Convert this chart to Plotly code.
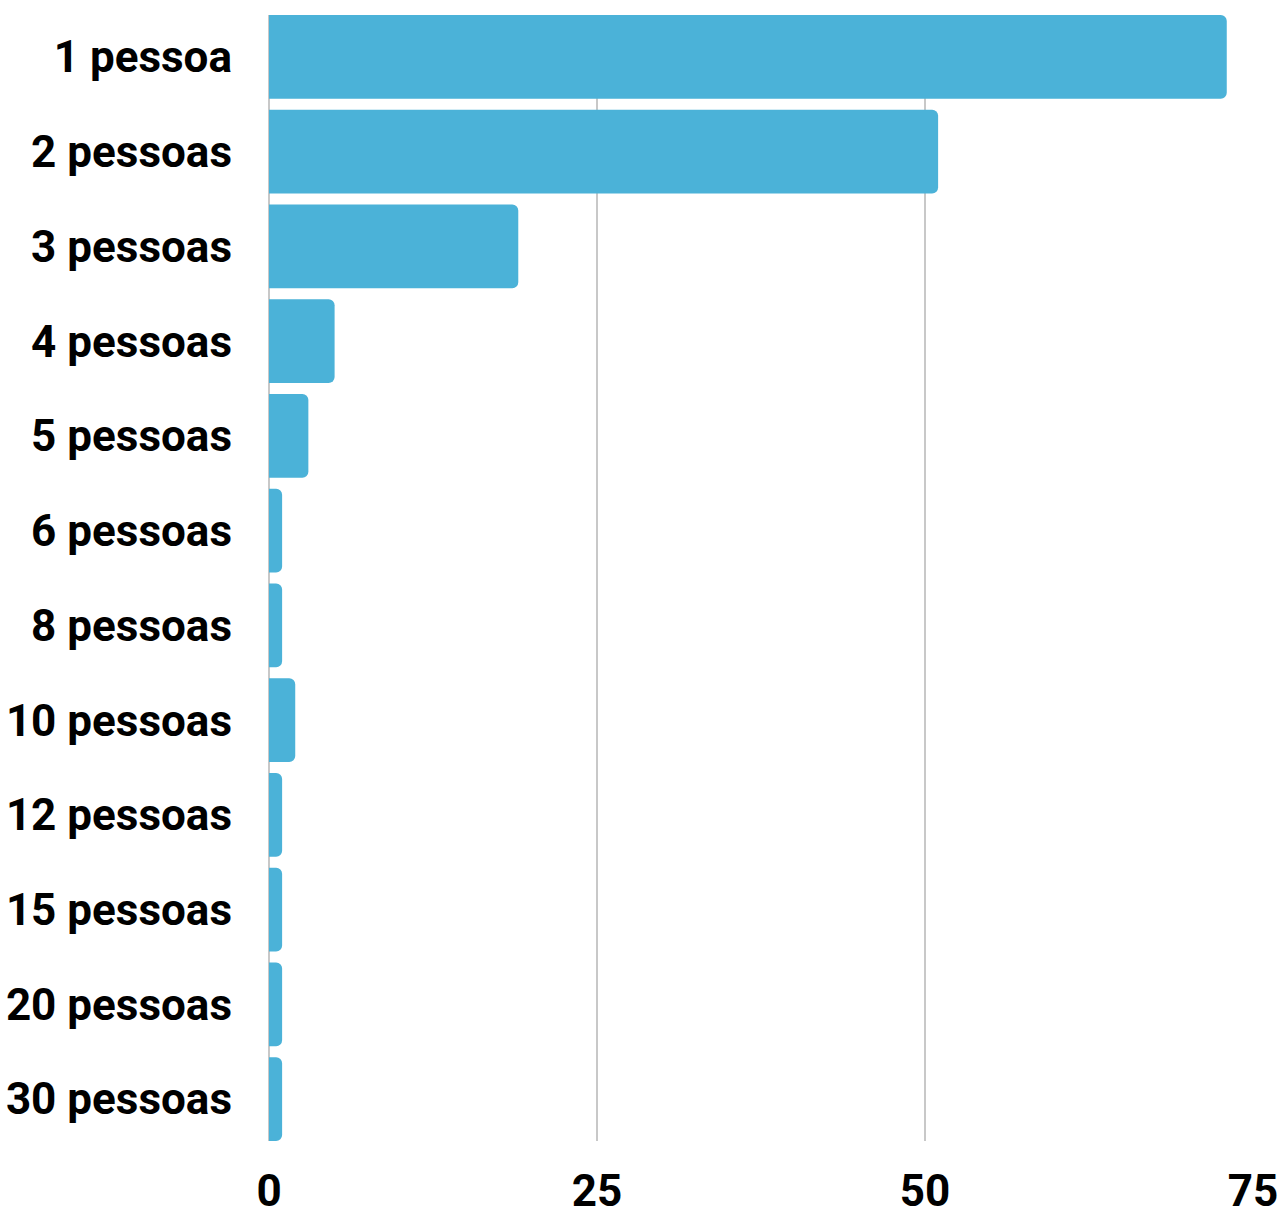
import plotly.graph_objects as go

categories = ["1 pessoa", "2 pessoas", "3 pessoas", "4 pessoas", "5 pessoas", "6 pessoas",
              "8 pessoas", "10 pessoas", "12 pessoas", "15 pessoas", "20 pessoas", "30 pessoas"]
values = [73, 51, 19, 5, 3, 1, 1, 2, 1, 1, 1, 1]
x_ticks = [0, 25, 50, 75]

bargap = 0.115
half = (1 - bargap) / 2

fig = go.Figure(go.Bar(
    x=values, y=categories, orientation="h",
    marker=dict(color="#4bb2d8", cornerradius=6, line=dict(width=0)),
    hoverinfo="x+y",
))

fig.update_layout(
    width=1288, height=1208,
    margin=dict(l=269, r=35, t=15, b=67),
    paper_bgcolor="white", plot_bgcolor="white",
    bargap=bargap, showlegend=False,
    font=dict(family="Roboto", color="#000000"),
)
fig.update_xaxes(
    range=[0, 75], tickvals=x_ticks, ticktext=[str(t) for t in x_ticks],
    showgrid=True, gridcolor="#c8c8c8", gridwidth=1.5,
    zeroline=True, zerolinecolor="#c8c8c8", zerolinewidth=1.5,
    tickfont=dict(family="Roboto", size=44, weight="bold", color="#000000"),
    ticks="", ticklabelstandoff=20, showline=False, automargin=False,
)
fig.update_yaxes(
    categoryorder="array", categoryarray=categories,
    range=[len(categories) - 1 + half, -half],
    tickfont=dict(family="Roboto", size=44, weight="bold", color="#000000"),
    ticks="", ticklabelstandoff=36, showgrid=False, showline=False, automargin=False,
)

fig.write_html(
    "out.html",
    config={"displayModeBar": False},
    post_script="document.body.style.margin='0px'; document.body.style.overflow='hidden';",
)
